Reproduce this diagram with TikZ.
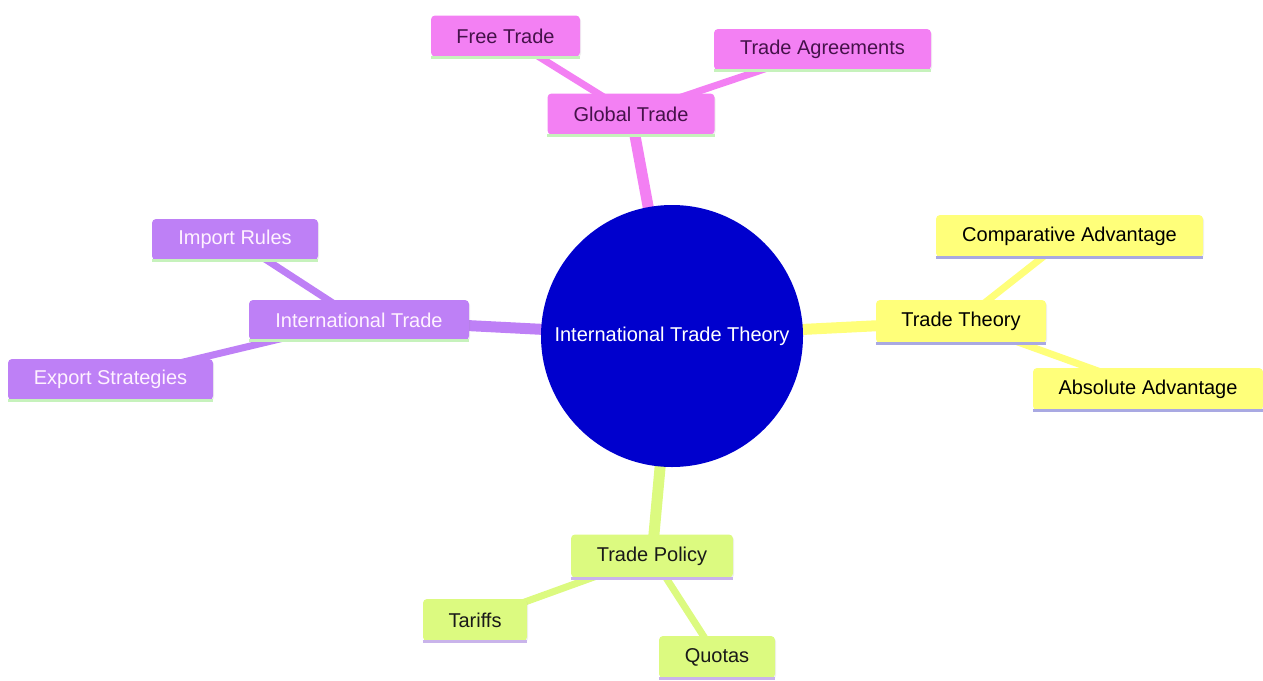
\documentclass[tikz,border=0pt]{standalone}
\usepackage{fontspec}
\setmainfont{Liberation Sans}
\usetikzlibrary{shadows}
\pgfdeclarelayer{bg}
\pgfsetlayers{bg,main}
\definecolor{pinkf}{HTML}{F380F3}
\definecolor{pinkt}{HTML}{45124A}
\definecolor{purf}{HTML}{BE80F6}
\definecolor{purt}{HTML}{FFF2FF}
\definecolor{yelf}{HTML}{FFFF7A}
\definecolor{grnf}{HTML}{DCFA80}
\definecolor{rootf}{HTML}{0000CD}
\definecolor{lgreen}{HTML}{C6F2BC}
\definecolor{lblue}{HTML}{A9A9E2}
\definecolor{llav}{HTML}{C9B4EA}
\begin{document}
\begin{tikzpicture}[x=1pt,y=-1pt,
  box/.style={rounded corners=4pt, minimum height=41pt, inner xsep=0pt, inner ysep=0pt,
    font=\fontsize{20}{24}\selectfont,
    drop shadow={opacity=0.12, shadow xshift=1pt, shadow yshift=-1.5pt}},
  pinkbox/.style={box, fill=pinkf, text=pinkt},
  purbox/.style={box, fill=purf, text=purt},
  yelbox/.style={box, fill=yelf, text=black},
  grnbox/.style={box, fill=grnf, text=black!90},
  e1/.style={line width=11pt},
  e2/.style={line width=7pt},
  bline/.style={line width=3pt}
]
\useasboundingbox (0,0) rectangle (1263,680);

\node[circle, fill=rootf, text=white, minimum size=262pt, inner sep=0pt,
      font=\fontsize{20}{24}\selectfont] (root) at (672,336) {International Trade Theory};

\node[pinkbox, minimum width=167pt] (gt) at (631,114) {Global Trade};
\node[pinkbox, minimum width=149pt] (ft) at (505.5,36) {Free Trade};
\node[pinkbox, minimum width=217pt] (ta) at (822.5,49.5) {Trade Agreements};

\node[yelbox, minimum width=170pt, minimum height=43pt] (tt) at (961,321.5) {Trade Theory};
\node[yelbox, minimum width=267pt, minimum height=42pt] (ca) at (1069.5,236) {Comparative Advantage};
\node[yelbox, minimum width=230pt, minimum height=42pt] (aa) at (1148,389) {Absolute Advantage};

\node[purbox, minimum width=220pt, minimum height=40pt] (it) at (359,320) {International Trade};
\node[purbox, minimum width=166pt] (ir) at (235,239.5) {Import Rules};
\node[purbox, minimum width=205pt] (es) at (110.5,379.5) {Export Strategies};

\node[grnbox, minimum width=162pt, minimum height=43pt] (tp) at (652,556) {Trade Policy};
\node[grnbox, minimum width=104pt, minimum height=42pt] (tf) at (475,620) {Tariffs};
\node[grnbox, minimum width=116pt, minimum height=42pt] (qu) at (717,657) {Quotas};

\begin{pgfonlayer}{bg}
  \draw[e1, pinkf] (root.center) -- (gt.center);
  \draw[e2, pinkf] (gt.center) -- (ft.center);
  \draw[e2, pinkf] (gt.center) -- (ta.center);
  \draw[e1, yelf] (root.center) -- (tt.center);
  \draw[e2, yelf] (tt.center) -- (ca.center);
  \draw[e2, yelf] (tt.center) -- (aa.center);
  \draw[e1, purf] (root.center) -- (it.center);
  \draw[e2, purf] (it.center) -- (ir.center);
  \draw[e2, purf] (it.center) -- (es.center);
  \draw[e1, grnf] (root.center) -- (tp.center);
  \draw[e2, grnf] (tp.center) -- (tf.center);
  \draw[e2, grnf] (tp.center) -- (qu.center);
\end{pgfonlayer}

\foreach \n/\c in {gt/lgreen, ft/lgreen, ta/lgreen, it/lgreen, ir/lgreen, es/lgreen,
                   tt/lblue, ca/lblue, aa/lblue, tp/llav, tf/llav, qu/llav}
  \draw[bline, \c] ([yshift=-0.5pt]\n.south west) -- ([yshift=-0.5pt]\n.south east);
\end{tikzpicture}
\end{document}
